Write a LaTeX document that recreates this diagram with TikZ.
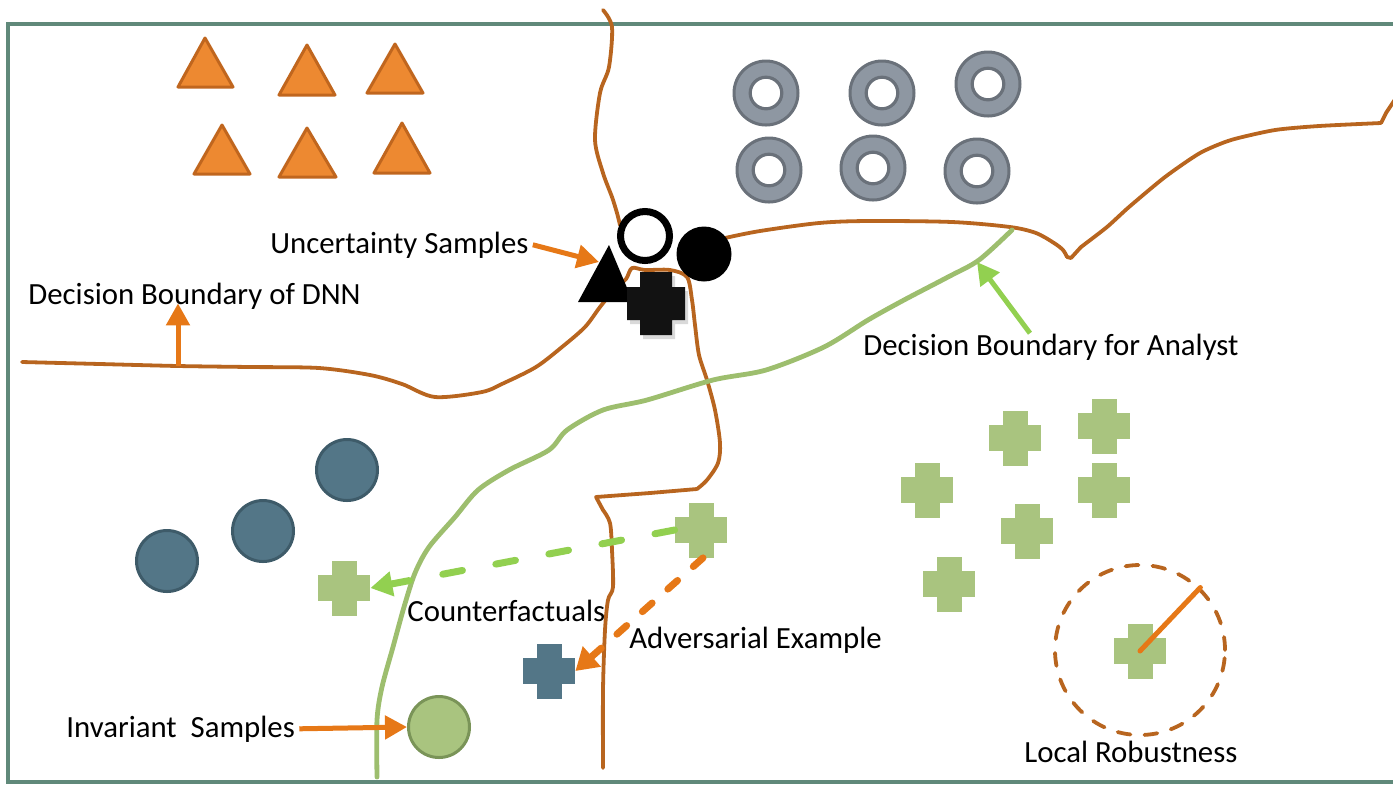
\documentclass[tikz,border=0pt]{standalone}
\usepackage{fontspec}
\setmainfont{Carlito}
\usetikzlibrary{arrows.meta,shadows}
\definecolor{framecol}{RGB}{96,137,122}
\definecolor{triorange}{RGB}{237,137,49}
\definecolor{tristroke}{RGB}{192,102,30}
\definecolor{donutfill}{RGB}{142,151,162}
\definecolor{donutstroke}{RGB}{106,113,122}
\definecolor{tealfill}{RGB}{83,118,135}
\definecolor{tealstroke}{RGB}{62,91,105}
\definecolor{crossgreen}{RGB}{169,196,127}
\definecolor{invstroke}{RGB}{122,148,88}
\definecolor{brownline}{RGB}{184,101,31}
\definecolor{arroworange}{RGB}{230,120,23}
\definecolor{arrowgreen}{RGB}{146,208,80}
\definecolor{analystgreen}{RGB}{157,190,110}
\tikzset{
  lab/.style={inner sep=0pt, anchor=base west, font=\fontsize{15.4}{18}\selectfont},
  tri/.style={fill=triorange, draw=tristroke, line width=1.5pt, line join=round},
  donut/.style={circle, minimum size=32pt, inner sep=0pt, fill=donutfill, draw=donutstroke, line width=1.5pt,
    path picture={\draw[donutstroke, fill=white, line width=1.6pt] (path picture bounding box.center) circle (7.9pt);}},
  blob/.style={circle, minimum size=30.5pt, inner sep=0pt, line width=1.5pt},
  plus/.style={rectangle, minimum width=26pt, minimum height=27.5pt, inner sep=0pt,
    path picture={\fill[#1] ([xshift=-6.25pt]path picture bounding box.north) rectangle ([xshift=6.25pt]path picture bounding box.south);
                  \fill[#1] ([yshift=6.5pt]path picture bounding box.west) rectangle ([yshift=-6.5pt]path picture bounding box.east);}},
  bline/.style={draw=brownline, line width=1.9pt, line cap=round, line join=round},
  gline/.style={draw=analystgreen, line width=2.4pt, line cap=round, line join=round},
  oarrow/.style={draw=arroworange, line width=2.5pt, -{Triangle[length=11pt,width=11.5pt]}},
  garrow/.style={draw=arrowgreen, line width=2.5pt, -{Triangle[length=11pt,width=11.5pt]}},
  gdash/.style={draw=arrowgreen, line width=3.5pt, line cap=round, dash pattern=on 10pt off 17pt, -{Triangle[length=11pt,width=12pt]}},
  odash/.style={draw=arroworange, line width=3.5pt, line cap=round, dash pattern=on 6.5pt off 10.5pt, -{Triangle[length=11pt,width=13pt]}},
}
\begin{document}
\begin{tikzpicture}[x=0.5pt,y=-0.5pt]
\useasboundingbox (0,0) rectangle (1393,784);
\clip (0,0) rectangle (1393,784);
% frame
\draw[framecol, line width=2pt] (8,24) rectangle (1410,782);

% brown decision boundary of the DNN
\draw[bline] plot[smooth, tension=0.5] coordinates {(22,362) (100,364) (178,366) (250,367) (319,368) (370,375) (402,384) (435,397) (482,392) (504,383) (536,367) (562,347) (585,327) (600,307) (614,290) (626,279) (632,268) (645,270) (670,270) (687,277) (692,300) (695,325) (699,355) (707,380) (715,410) (720,443) (718,463) (707,480) (697,489)};
\draw[bline] (697,489) -- (650,493) -- (596,497) -- (603,510);
\draw[bline] plot[smooth, tension=0.5] coordinates {(603,510) (610,523) (612,550) (613,587) (608,600) (605,630) (603,690) (603,768)};
\draw[bline] plot[smooth, tension=0.5] coordinates {(603,10) (612,27) (609,67) (600,93) (595,140) (603,173) (612,197) (617,213) (620,225)};
\draw[bline] plot[smooth, tension=0.5] coordinates {(725,238) (760,231) (819,223) (868,221) (952,222) (1010,227) (1036,233) (1054,243) (1063,250) (1067,257)};
\draw[bline] (1067,257) -- (1071,258) -- (1081,247);
\draw[bline] plot[smooth, tension=0.4] coordinates {(1081,247) (1107,227) (1129,207) (1165,177) (1200,153) (1231,140) (1275,130) (1319,126) (1381,123)};
\draw[bline] (1381,123) -- (1386,113) -- (1396,98);

% green decision boundary for the analyst
\draw[gline] plot[smooth, tension=0.5] coordinates {(1012,230) (979,260) (948,277) (904,300) (868,320) (824,347) (766,370) (713,380) (647,400) (603,410) (567,430) (549,450) (509,470) (478,490) (455,517) (429,547) (415,573) (404,607) (393,647) (382,687) (377,720) (377,777)};

% orange triangles
\draw[tri] (205,38) -- (233,87) -- (178,87) -- cycle;
\draw[tri] (307,45) -- (335,95) -- (279,95) -- cycle;
\draw[tri] (395,44) -- (423,93) -- (367,93) -- cycle;
\draw[tri] (222,125) -- (250,174) -- (194,174) -- cycle;
\draw[tri] (307,128) -- (336,177) -- (279,177) -- cycle;
\draw[tri] (402,123) -- (430,173) -- (374,173) -- cycle;

% grey donuts
\node[donut] (d1) at (766,93) {};
\node[donut] (d2) at (882,93) {};
\node[donut] (d3) at (988,84) {};
\node[donut] (d4) at (769,170) {};
\node[donut] (d5) at (873,168) {};
\node[donut] (d6) at (977,171) {};

% uncertainty samples
\node[circle, minimum size=24.5pt, inner sep=0pt, draw=black, fill=white, line width=3.5pt] (ring) at (645,236) {};
\node[circle, minimum size=27.5pt, inner sep=0pt, fill=black] (dot) at (704,254) {};
\fill[black, line join=round] (609,245) -- (633,302) -- (578,302) -- cycle;
\coordinate (triLeft) at (599,262);
\fill[black!93, drop shadow={shadow xshift=1.5pt, shadow yshift=-2pt, opacity=0.3}]
  (640,272) -- (672,272) -- (672,287) -- (685,287) -- (685,320) -- (672,320) -- (672,335) -- (640,335) -- (640,320) -- (627,320) -- (627,287) -- (640,287) -- cycle;

% teal circles
\node[blob, fill=tealfill, draw=tealstroke] (c1) at (347,470) {};
\node[blob, fill=tealfill, draw=tealstroke] (c2) at (263,531) {};
\node[blob, fill=tealfill, draw=tealstroke] (c3) at (167,561) {};

% invariant sample
\node[blob, fill=crossgreen, draw=invstroke] (inv) at (439,727) {};

% green crosses
\node[plus=crossgreen] (g1) at (1015,438) {};
\node[plus=crossgreen] (g2) at (1104,426) {};
\node[plus=crossgreen] (g3) at (927,490) {};
\node[plus=crossgreen] (g4) at (1104,490) {};
\node[plus=crossgreen] (g5) at (1027,531) {};
\node[plus=crossgreen] (g6) at (949,584) {};
\node[plus=crossgreen] (src) at (701,530) {};
\node[plus=crossgreen] (cf) at (344,588) {};
\node[plus=tealfill] (adv) at (549,671) {};

% local robustness
\node[circle, minimum size=85pt, inner sep=0pt, draw=brownline, line width=1.9pt, line cap=round, dash pattern=on 6.5pt off 7pt] (lr) at (1140,650) {};
\node[plus=crossgreen] (g7) at (1140,651) {};
\draw[arroworange, line width=2.5pt, line cap=round] (g7.center) -- (lr.46);

% labels
\node[lab] (lDNN) at (28,304) {Decision Boundary of DNN};
\node[lab] (lUnc) at (270,253) {Uncertainty Samples};
\node[lab] (lAna) at (863,355) {Decision Boundary for Analyst};
\node[lab] (lCf) at (407,621) {Counterfactuals};
\node[lab] (lAdv) at (629,648) {Adversarial Example};
\node[lab] (lInv) at (66,737) {Invariant\ \ Samples};
\node[lab] (lLoc) at (1024,762) {Local Robustness};

% arrows
\coordinate (dnnFoot) at (178,366);
\coordinate (anaTip) at (977,262);
\draw[oarrow] (dnnFoot) -- ([yshift=3pt]dnnFoot |- lDNN.south);
\draw[oarrow] ([xshift=2pt]lUnc.east) -- (triLeft);
\draw[garrow] ([xshift=-10.5pt]lAna.north) -- (anaTip);
\draw[oarrow] ([xshift=2pt]lInv.east) -- (inv.west);
\draw[gdash] (src.west) -- (cf.east);
\draw[odash] ([xshift=1pt]src.south) -- (adv.east);
\end{tikzpicture}
\end{document}
